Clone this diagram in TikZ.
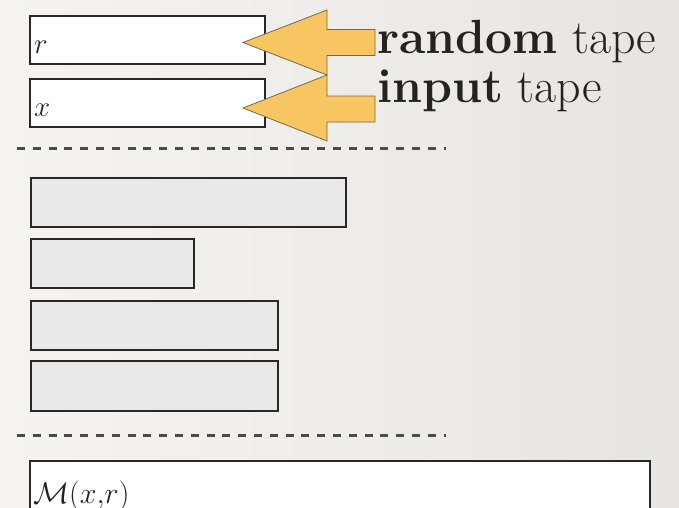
\RequirePackage{fix-cm}
\documentclass[tikz,border=0pt]{standalone}
\usepackage{amsmath}
\begin{document}
\begin{tikzpicture}[x=1pt,y=-1pt,
  tapebox/.style={draw={rgb,255:red,40;green,40;blue,40}, line width=1.5pt, fill=white, inner sep=0pt, anchor=north west},
  workbox/.style={draw={rgb,255:red,40;green,40;blue,40}, line width=1.5pt, fill={rgb,255:red,233;green,233;blue,233}, inner sep=0pt, anchor=north west},
  sep/.style={draw={rgb,255:red,75;green,75;blue,75}, line width=3pt, dash pattern=on 8pt off 7.8pt},
  blockarrow/.style={fill={rgb,255:red,247;green,198;blue,98}, draw={rgb,255:red,125;green,105;blue,55}, line width=0.8pt, line join=miter},
  label/.style={anchor=base west, inner sep=0pt, text={rgb,255:red,35;green,35;blue,35}, font=\fontsize{48}{52}\selectfont},
  tapetext/.style={anchor=base west, inner sep=0pt, text={rgb,255:red,35;green,35;blue,35}, font=\fontsize{29}{33}\selectfont}
]
\useasboundingbox (0,0) rectangle (679,507);
\shade[left color={rgb,255:red,245;green,244;blue,241}, right color={rgb,255:red,230;green,229;blue,225}] (0,0) rectangle (679,507);

% tapes
\node[tapebox, minimum width=235pt, minimum height=48pt] (rbox) at (29,15) {};
\node[tapebox, minimum width=235pt, minimum height=48pt] (xbox) at (29,78) {};
\node[tapetext] (rtxt) at (34,53) {$r$};
\node[tapetext] (xtxt) at (34,116) {$x$};

% labels
\node[label] (rlab) at (377,53) {\textbf{random} tape};
\node[label] (ilab) at (377,102) {\textbf{input} tape};

% block arrows
\draw[blockarrow] (243,42.5) -- (327,10) -- (327,29.5) -- (375,29.5) -- (375,55.5) -- (327,55.5) -- (327,75) -- cycle;
\draw[blockarrow] (243,108) -- (327,75) -- (327,96) -- (375,96) -- (375,122) -- (327,122) -- (327,141) -- cycle;

% separators
\coordinate (s1a) at (17,148);
\coordinate (s1b) at (446,148);
\coordinate (s2a) at (17,435);
\coordinate (s2b) at (446,435);
\draw[sep] (s1a) -- (s1b);
\draw[sep] (s2a) -- (s2b);

% work tapes
\node[workbox, minimum width=315pt, minimum height=49pt] (w1) at (30,177) {};
\node[workbox, minimum width=163pt, minimum height=49pt] (w2) at (30,238) {};
\node[workbox, minimum width=247pt, minimum height=49pt] (w3) at (30,300) {};
\node[workbox, minimum width=247pt, minimum height=50pt] (w4) at (30,360) {};

% output tape
\node[tapebox, minimum width=620pt, minimum height=60pt] (obox) at (29,460) {};
\node[tapetext, font=\fontsize{30}{34}\selectfont] (otxt) at (33,503) {$\mathcal{M}(x{,}r)$};
\end{tikzpicture}
\end{document}
